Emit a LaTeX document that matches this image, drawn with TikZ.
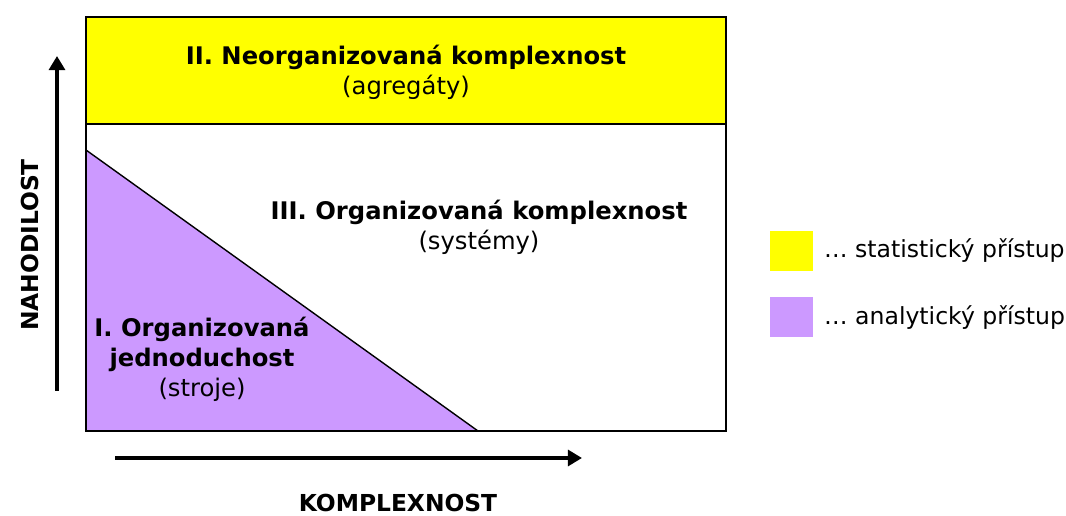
\documentclass[tikz,border=0pt]{standalone}
\usepackage{fontspec}
\setmainfont{DejaVu Sans}
\usetikzlibrary{arrows.meta}

\definecolor{statYellow}{HTML}{FFFF00}
\definecolor{anaPurple}{HTML}{CC99FF}

\tikzset{
    areaText/.style={align=center, font=\fontsize{13.8}{17}\selectfont},
    axisText/.style={font=\fontsize{13.3}{16}\selectfont\bfseries},
    legendText/.style={anchor=west, font=\fontsize{13.4}{16}\selectfont},
    axisArrow/.style={line width=2.7pt, -{Triangle[length=8pt, width=9pt]}},
}

\begin{document}
\begin{tikzpicture}[x=0.02cm, y=-0.02cm]
    \useasboundingbox (0,0) rectangle (1066,516);

    % Define the corners of the main box
    \coordinate (topLeft) at (86, 17);
    \coordinate (bottomRight) at (726, 431);
    \coordinate (bandLeft) at (86, 124);
    \coordinate (bandRight) at (726, 124);

    % Draw the areas
    \fill[statYellow] (topLeft) rectangle (bandRight);
    \fill[anaPurple] (86, 150) -- (86, 431) -- (478, 431) -- cycle;
    \draw[line width=0.8pt] (86, 150) -- (478, 431);
    \draw[line width=1.4pt] (topLeft) rectangle (bottomRight);
    \draw[line width=1.1pt] (bandLeft) -- (bandRight);

    % Draw the labels of the areas
    \node[areaText] (unorganized) at (406, 72) {\textbf{II. Neorganizovaná komplexnost}\\(agregáty)};
    \node[areaText] (organized) at (479, 227) {\textbf{III. Organizovaná komplexnost}\\(systémy)};
    \node[areaText] (simple) at (202, 359) {\textbf{I. Organizovaná}\\\textbf{jednoduchost}\\(stroje)};

    % Draw the axes
    \coordinate (yStart) at (57, 391);
    \coordinate (yEnd) at (57, 56);
    \coordinate (xStart) at (115, 458);
    \coordinate (xEnd) at (582, 458);
    \draw[axisArrow] (yStart) -- (yEnd);
    \draw[axisArrow] (xStart) -- (xEnd);
    \node[axisText, rotate=90] (randomness) at (30, 245) {NAHODILOST};
    \node[axisText, anchor=base, inner sep=0pt] (complexity) at (398, 512) {KOMPLEXNOST};

    % Draw the legend
    \node[fill=statYellow, minimum width=0.86cm, minimum height=0.8cm, inner sep=0pt] (statBox) at (791, 251) {};
    \node[fill=anaPurple, minimum width=0.86cm, minimum height=0.8cm, inner sep=0pt] (anaBox) at (791, 317) {};
    \node[legendText] (statLabel) at (818, 251) {… statistický přístup};
    \node[legendText] (anaLabel) at (818, 318) {… analytický přístup};
\end{tikzpicture}
\end{document}
